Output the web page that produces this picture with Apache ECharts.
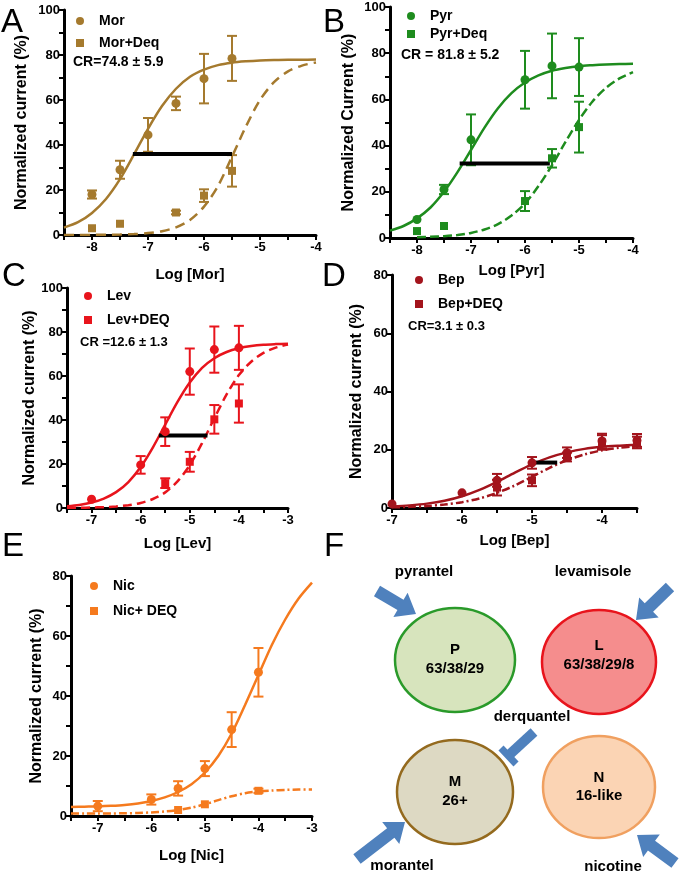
<!DOCTYPE html>
<html>
<head>
<meta charset="utf-8">
<script src="https://cdn.jsdelivr.net/npm/echarts@6/dist/echarts.min.js"></script>
<style>html,body{margin:0;background:#fff}#main{width:680px;height:875px}</style>
</head>
<body>
<div id="main"></div>
<script>
// ---- A: morantel ----
var morX = [-8, -7.5, -7, -6.5, -6, -5.5];
var morY = [18, 29, 44.5, 58.5, 69.5, 78.5];
var morErr = [1.8, 4, 7.5, 3, 11, 10];
var morDeqX = [-8, -7.5, -6.5, -6, -5.5];
var morDeqY = [3, 5, 10, 17.5, 28.5];
var morDeqErr = [0, 0, 0.8, 2.8, 7];
var gridAX = [-8.5, -8.25, -8, -7.75, -7.5, -7.25, -7, -6.75, -6.5, -6.25, -6, -5.75, -5.5, -5.25, -5, -4.75, -4.5, -4.25, -4];
var morFit = [3.3, 5.7, 9.8, 16, 24.8, 35.8, 47.2, 57.3, 65, 70.3, 73.5, 75.5, 76.6, 77.2, 77.6, 77.8, 77.9, 77.9, 78];
var morDeqFit = [0, 0, 0.05, 0.1, 0.2, 0.4, 0.85, 1.7, 3.4, 6.7, 12.6, 21.8, 34.8, 48.3, 60, 67.9, 72.7, 75.3, 76.7];
var barAX = [-7.27, -5.5], barAY = [36, 36];

// ---- B: pyrantel ----
var pyrX = [-8, -7.5, -7, -6, -5.5, -5];
var pyrY = [8, 21, 42.5, 68.5, 74.5, 74];
var pyrErr = [0, 2, 11, 12.5, 14, 12.5];
var pyrDeqX = [-8, -7.5, -6, -5.5, -5];
var pyrDeqY = [3, 5.2, 16, 34.5, 48];
var pyrDeqErr = [0, 0, 4.3, 4, 11];
var gridBX = [-8.5, -8.25, -8, -7.75, -7.5, -7.25, -7, -6.75, -6.5, -6.25, -6, -5.75, -5.5, -5.25, -5, -4.75, -4.5, -4.25, -4];
var pyrFit = [3.2, 5.2, 8.5, 13.2, 20, 28.5, 38.1, 47.8, 56.2, 62.7, 67.3, 70.4, 72.4, 73.6, 74.4, 74.8, 75.1, 75.3, 75.4];
var gridB2X = [-8, -7.75, -7.5, -7.25, -7, -6.75, -6.5, -6.25, -6, -5.75, -5.5, -5.25, -5, -4.75, -4.5, -4.25, -4];
var pyrDeqFit = [0.3, 0.5, 0.8, 1.3, 2.2, 3.7, 6, 9.7, 15, 22.5, 31.5, 41.6, 51.1, 59.1, 65, 69.1, 71.8];
var barBX = [-7.21, -5.54], barBY = [32.3, 32.3];

// ---- C: levamisole ----
var levX = [-7, -6, -5.5, -5, -4.5, -4];
var levY = [4, 19.6, 34.7, 62, 72, 72.8];
var levErr = [0, 4, 6.5, 10.5, 10.5, 10];
var levDeqX = [-5.5, -5, -4.5, -4];
var levDeqY = [11.3, 21, 40.3, 47.5];
var levDeqErr = [2.2, 4.5, 6.5, 8.7];
var gridCX = [-7.5, -7.25, -7, -6.75, -6.5, -6.25, -6, -5.75, -5.5, -5.25, -5, -4.75, -4.5, -4.25, -4, -3.75, -3.5, -3.25, -3];
var levFit = [0.8, 1.4, 2.5, 4.3, 7.2, 11.8, 18.6, 27.6, 37.9, 48.2, 57, 63.7, 68.1, 70.9, 72.6, 73.6, 74.2, 74.5, 74.7];
var levDeqFit = [0.06, 0.12, 0.21, 0.39, 0.7, 1.27, 2.3, 4.1, 7.1, 12.1, 19.5, 29.5, 40.8, 51.6, 60.4, 66.5, 70.5, 72.9, 74.3];
var barCX = [-5.63, -4.64], barCY = [32.9, 32.9];

// ---- D: bephenium ----
var bepX = [-7, -6, -5.5, -5, -4.5, -4, -3.5];
var bepY = [1.4, 5.2, 9.5, 15.5, 19, 23, 23.2];
var bepErr = [0, 0, 2.2, 2, 1.8, 2.5, 2.2];
var bepDeqX = [-5.5, -5, -4.5, -4, -3.5];
var bepDeqY = [7, 9.5, 17.5, 22.5, 22.5];
var bepDeqErr = [2.7, 2, 1.5, 2.5, 2];
var gridDX = [-7, -6.75, -6.5, -6.25, -6, -5.75, -5.5, -5.25, -5, -4.75, -4.5, -4.25, -4, -3.75, -3.5];
var bepFit = [0.5, 0.9, 1.5, 2.5, 4.05, 6.25, 9, 12.1, 15, 17.4, 19.1, 20.3, 21, 21.4, 21.7];
var bepDeqFit = [0.23, 0.4, 0.69, 1.18, 2, 3.3, 5.2, 7.7, 10.7, 13.8, 16.4, 18.4, 19.8, 20.7, 21.2];
var barDX = [-5, -4.64], barDY = [15.6, 15.6];

// ---- E: nicotine ----
var nicX = [-7, -6, -5.5, -5, -4.5, -4];
var nicY = [3.3, 5.5, 9.2, 15.8, 28.8, 47.9];
var nicErr = [1.7, 1.7, 2.4, 2.5, 5.8, 8.1];
var nicDeqX = [-5.5, -5, -4];
var nicDeqY = [2, 3.9, 8.4];
var nicDeqErr = [0, 0, 0.7];
var gridEX = [-7.5, -7.25, -7, -6.75, -6.5, -6.25, -6, -5.75, -5.5, -5.25, -5, -4.75, -4.5, -4.25, -4, -3.75, -3.5, -3.25, -3];
var nicFit = [3, 3.1, 3.2, 3.4, 3.7, 4.2, 5, 6.2, 8, 10.6, 14.5, 20, 27.5, 37, 47, 57, 65.5, 72.5, 77.8];
var nicDeqFit = [0.8, 0.8, 0.8, 0.85, 0.9, 1, 1.2, 1.5, 2, 2.8, 3.9, 5.3, 6.6, 7.6, 8.2, 8.5, 8.7, 8.8, 8.8];

var chart = echarts.init(document.getElementById('main'));

function pts(xs, ys) {
    return xs.map(function (x, i) { return [x, ys[i]]; });
}
function errPts(xs, ys, es) {
    return xs.map(function (x, i) { return [x, ys[i], es[i]]; });
}

function errorBar(params, api) {
    var x = api.value(0), y = api.value(1), e = api.value(2);
    if (!e) return;
    var hi = api.coord([x, y + e]), lo = api.coord([x, y - e]);
    var c = 5;
    var st = {stroke: api.visual('color'), lineWidth: 2};
    return {
        type: 'group', children: [
            {type: 'line', shape: {x1: hi[0], y1: hi[1], x2: lo[0], y2: lo[1]}, style: st},
            {type: 'line', shape: {x1: hi[0] - c, y1: hi[1], x2: hi[0] + c, y2: hi[1]}, style: st},
            {type: 'line', shape: {x1: lo[0] - c, y1: lo[1], x2: lo[0] + c, y2: lo[1]}, style: st}
        ]
    };
}

// panel definitions
var panels = [
    {color: '#a57a2e', grid: {left: 64, top: 10, width: 252, height: 225}, xmin: -8.5, xmax: -4, ymax: 100, yTick: 10,
        xName: 'Log [Mor]', xGap: 32, yName: 'Normalized current (%)', yGap: 34,
        names: ['Mor', 'Mor+Deq'], a: [morX, morY, morErr], b: [morDeqX, morDeqY, morDeqErr],
        fitA: pts(gridAX, morFit), fitB: pts(gridAX, morDeqFit), bar: pts(barAX, barAY), dash: [10, 6],
        legend: {left: 71, top: 9, itemGap: 8}},
    {color: '#1e8c1e', grid: {left: 390, top: 7, width: 243, height: 231}, xmin: -8.5, xmax: -4, ymax: 100, yTick: 10,
        xName: 'Log [Pyr]', xGap: 25, yName: 'Normalized Current (%)', yGap: 33,
        names: ['Pyr', 'Pyr+Deq'], a: [pyrX, pyrY, pyrErr], b: [pyrDeqX, pyrDeqY, pyrDeqErr],
        fitA: pts(gridBX, pyrFit), fitB: pts(gridBX.slice(2), pyrDeqFit), bar: pts(barBX, barBY), dash: [9, 4],
        legend: {left: 402, top: 4, itemGap: 4}},
    {color: '#e8141c', grid: {left: 67, top: 288, width: 221, height: 220}, xmin: -7.5, xmax: -3, ymax: 100, yTick: 10,
        xName: 'Log [Lev]', xGap: 28, yName: 'Normalized current (%)', yGap: 29,
        names: ['Lev', 'Lev+DEQ'], a: [levX, levY, levErr], b: [levDeqX, levDeqY, levDeqErr],
        fitA: pts(gridCX, levFit), fitB: pts(gridCX, levDeqFit), bar: pts(barCX, barCY), dash: [9, 5],
        legend: {left: 79, top: 284, itemGap: 10}},
    {color: '#a3141c', grid: {left: 392, top: 275, width: 245, height: 233}, xmin: -7, xmax: -3.5, ymax: 80, yTick: 20,
        xName: 'Log [Bep]', xGap: 25, yName: 'Normalized current (%)', yGap: 27,
        names: ['Bep', 'Bep+DEQ'], a: [bepX, bepY, bepErr], b: [bepDeqX, bepDeqY, bepDeqErr],
        fitA: pts(gridDX, bepFit), fitB: pts(gridDX, bepDeqFit), bar: pts(barDX, barDY), dash: [8, 3, 2, 3],
        legend: {left: 410, top: 268, itemGap: 10}},
    {color: '#f57a1e', grid: {left: 71, top: 576, width: 241, height: 240}, xmin: -7.5, xmax: -3, ymax: 80, yTick: 10,
        xName: 'Log [Nic]', xGap: 32, yName: 'Normalized current (%)', yGap: 26,
        names: ['Nic', 'Nic+ DEQ'], a: [nicX, nicY, nicErr], b: [nicDeqX, nicDeqY, nicDeqErr],
        fitA: pts(gridEX, nicFit), fitB: pts(gridEX, nicDeqFit), bar: null, dash: [8, 3, 2, 3],
        legend: {left: 85, top: 574, itemGap: 11}}
];

var grids = [], xAxes = [], yAxes = [], series = [], legends = [];
panels.forEach(function (p, i) {
    grids.push(p.grid);
    xAxes.push({
        type: 'value', gridIndex: i, min: p.xmin, max: p.xmax, interval: 0.5,
        name: p.xName, nameLocation: 'middle', nameGap: p.xGap,
        nameTextStyle: {fontWeight: 'bold', fontSize: 15, color: '#000', fontFamily: 'Liberation Sans'},
        axisLine: {onZero: false, lineStyle: {color: '#000', width: 3}},
        axisTick: {length: 5, lineStyle: {color: '#000', width: 2}},
        axisLabel: {
            margin: 6, fontWeight: 'bold', fontSize: 13, color: '#000', fontFamily: 'Liberation Sans',
            formatter: function (v) { return Number.isInteger(v) ? String(v) : ''; }
        },
        splitLine: {show: false}
    });
    yAxes.push({
        type: 'value', gridIndex: i, min: 0, max: p.ymax, interval: p.yTick,
        name: p.yName, nameLocation: 'middle', nameGap: p.yGap, nameRotate: 90,
        nameTextStyle: {fontWeight: 'bold', fontSize: 16, color: '#000', fontFamily: 'Liberation Sans'},
        axisLine: {onZero: false, lineStyle: {color: '#000', width: 3}},
        axisTick: {length: 5, lineStyle: {color: '#000', width: 2}},
        axisLabel: {
            margin: 4, fontWeight: 'bold', fontSize: 13, color: '#000', fontFamily: 'Liberation Sans',
            formatter: function (v) { return v % 20 === 0 ? String(v) : ''; }
        },
        splitLine: {show: false}
    });
    var lw = 2.5;
    series.push({type: 'line', xAxisIndex: i, yAxisIndex: i, data: p.fitA, smooth: 0.3, symbol: 'none',
        lineStyle: {color: p.color, width: lw}, z: 2, silent: true});
    series.push({type: 'line', xAxisIndex: i, yAxisIndex: i, data: p.fitB, smooth: 0.3, symbol: 'none',
        lineStyle: {color: p.color, width: lw, type: p.dash}, z: 2, silent: true});
    if (p.bar) {
        series.push({type: 'line', xAxisIndex: i, yAxisIndex: i, data: p.bar, symbol: 'none',
            lineStyle: {color: '#000', width: 4}, z: 4});
    }
    series.push({type: 'custom', xAxisIndex: i, yAxisIndex: i, renderItem: errorBar,
        data: errPts(p.a[0], p.a[1], p.a[2]), itemStyle: {color: p.color}, z: 3});
    series.push({type: 'custom', xAxisIndex: i, yAxisIndex: i, renderItem: errorBar,
        data: errPts(p.b[0], p.b[1], p.b[2]), itemStyle: {color: p.color}, z: 3});
    series.push({name: p.names[0], type: 'scatter', xAxisIndex: i, yAxisIndex: i, symbol: 'circle', symbolSize: 9,
        data: pts(p.a[0], p.a[1]), itemStyle: {color: p.color, opacity: 1}, z: 5});
    series.push({name: p.names[1], type: 'scatter', xAxisIndex: i, yAxisIndex: i, symbol: 'rect', symbolSize: 8,
        data: pts(p.b[0], p.b[1]), itemStyle: {color: p.color, opacity: 1}, z: 5});
    legends.push({
        left: p.legend.left, top: p.legend.top, orient: 'vertical', itemGap: p.legend.itemGap,
        itemWidth: 8, itemHeight: 8, selectedMode: false,
        data: [{name: p.names[0], icon: 'circle'}, {name: p.names[1], icon: 'rect'}],
        textStyle: {fontWeight: 'bold', fontSize: 14, color: '#000', fontFamily: 'Liberation Sans', padding: [0, 0, 0, 10]}
    });
});

function letter(t, x, y) {
    return {type: 'text', left: x, top: y, style: {text: t, font: '33px "Liberation Sans"', fill: '#000'}};
}
function label(t, x, y, size) {
    return {type: 'text', left: x, top: y, style: {text: t, font: 'bold ' + (size || 14) + 'px "Liberation Sans"', fill: '#000'}};
}
function centered(t, x, y, size) {
    return {type: 'text', x: x, y: y, style: {text: t, font: 'bold ' + (size || 15) + 'px "Liberation Sans"', fill: '#000', align: 'center', verticalAlign: 'middle'}};
}
function arrow(x1, y1, x2, y2) {
    var dx = x2 - x1, dy = y2 - y1, len = Math.sqrt(dx * dx + dy * dy);
    var ux = dx / len, uy = dy / len, nx = -uy, ny = ux;
    var w = 6, hw = 14, hl = 18;
    var bx = x2 - ux * hl, by = y2 - uy * hl;
    return {type: 'polygon', shape: {points: [
        [x1 + nx * w, y1 + ny * w], [bx + nx * w, by + ny * w], [bx + nx * hw, by + ny * hw], [x2, y2],
        [bx - nx * hw, by - ny * hw], [bx - nx * w, by - ny * w], [x1 - nx * w, y1 - ny * w]
    ]}, style: {fill: '#4f81bd'}};
}
function ellipse(cx, cy, rx, ry, fill, stroke) {
    return {type: 'ellipse', shape: {cx: cx, cy: cy, rx: rx, ry: ry}, style: {fill: fill, stroke: stroke, lineWidth: 2.5}};
}

var graphics = [
    letter('A', 1, 6), letter('B', 323, 6), letter('C', 2, 260), letter('D', 322, 260),
    letter('E', 2, 530), letter('F', 324, 530),
    label('CR=74.8 \u00b1 5.9', 73, 55), label('CR = 81.8 \u00b1 5.2', 401, 48),
    label('CR =12.6 \u00b1 1.3', 80, 336, 13), label('CR=3.1 \u00b1 0.3', 408, 320, 13),
    ellipse(455, 660, 60, 52, '#d7e4bd', '#2a9a2a'),
    ellipse(599, 662, 57, 52, '#f58d8d', '#e8141c'),
    ellipse(455, 792, 58, 52, '#ddd9c3', '#946a1e'),
    ellipse(599, 787, 56, 51, '#fbd4b4', '#f0a060'),
    centered('P', 455, 650), centered('63/38/29', 455, 669),
    centered('L', 599, 646), centered('63/38/29/8', 599, 665),
    centered('M', 455, 782), centered('26+', 455, 801),
    centered('N', 599, 778), centered('16-like', 599, 796),
    centered('pyrantel', 424, 572), centered('levamisole', 593, 572),
    centered('derquantel', 532, 717), centered('morantel', 402, 866), centered('nicotine', 613, 867),
    arrow(377, 591, 416, 614), arrow(670, 587, 636, 620),
    arrow(357, 859, 405, 822), arrow(675, 863, 637, 835),
    {type: 'line', shape: {x1: 534, y1: 732, x2: 509, y2: 755}, style: {stroke: '#4f81bd', lineWidth: 10}},
    {type: 'line', shape: {x1: 501, y1: 748, x2: 516, y2: 764}, style: {stroke: '#4f81bd', lineWidth: 7}}
];

var option = {
    backgroundColor: '#fff',
    animation: false,
    grid: grids,
    xAxis: xAxes,
    yAxis: yAxes,
    legend: legends,
    series: series,
    graphic: graphics
};
chart.setOption(option);
</script>
</body>
</html>
